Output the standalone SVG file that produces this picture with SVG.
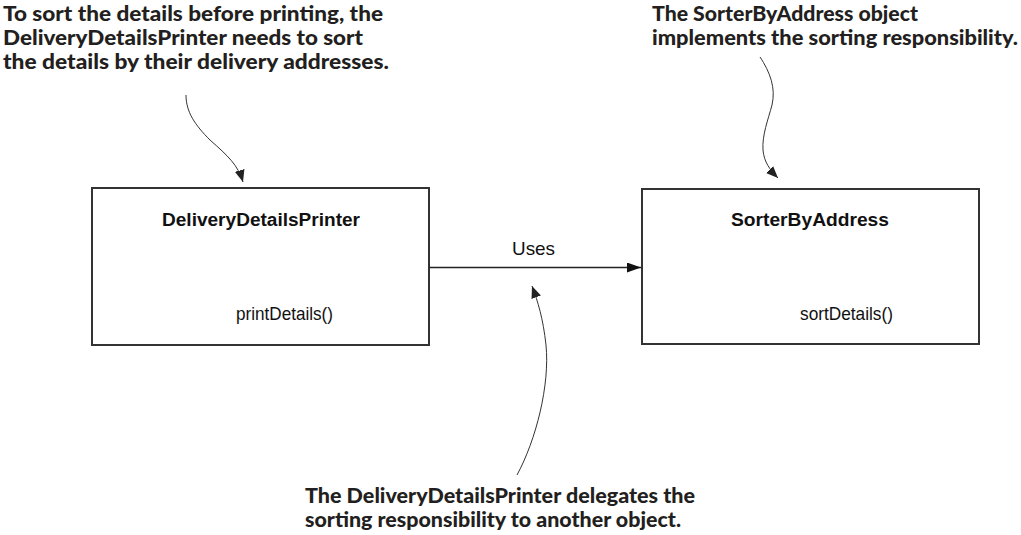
<svg xmlns="http://www.w3.org/2000/svg" width="1021" height="535" viewBox="0 0 1021 535">
<style>
.box{fill:#fff;stroke:#333;stroke-width:2}
.title{font-family:"Liberation Sans",Arial,sans-serif;font-weight:bold;font-size:18px;fill:#111}
.meth{font-family:"Liberation Sans",Arial,sans-serif;font-size:18.5px;fill:#111}
.note{font-family:Lato,"Open Sans",sans-serif;font-weight:900;font-size:21.5px;fill:#231f20}
.conn{fill:none;stroke:#222;stroke-width:1.5}
.call{fill:none;stroke:#333;stroke-width:1}
</style>
<defs>
<marker id="tri" markerWidth="14" markerHeight="10" refX="14" refY="5" orient="auto" markerUnits="userSpaceOnUse">
<path d="M0,0 L14,5 L0,10 Z" fill="#111"/>
</marker>
<marker id="ann" markerWidth="12" markerHeight="10" refX="12" refY="5" orient="auto" markerUnits="userSpaceOnUse">
<path d="M0,0 L12,5 L0,10 Z" fill="#222"/>
</marker>
</defs>
<g id="note-left">
<text class="note" x="3" y="21" textLength="380" lengthAdjust="spacingAndGlyphs">To sort the details before printing, the</text>
<text class="note" x="3" y="45" textLength="360" lengthAdjust="spacingAndGlyphs">DeliveryDetailsPrinter needs to sort</text>
<text class="note" x="3" y="69" textLength="386" lengthAdjust="spacingAndGlyphs">the details by their delivery addresses.</text>
</g>
<g id="note-right">
<text class="note" x="652" y="21" textLength="266" lengthAdjust="spacingAndGlyphs">The SorterByAddress object</text>
<text class="note" x="652" y="45" textLength="366" lengthAdjust="spacingAndGlyphs">implements the sorting responsibility.</text>
</g>
<g id="note-bottom">
<text class="note" x="305" y="503" textLength="390" lengthAdjust="spacingAndGlyphs">The DeliveryDetailsPrinter delegates the</text>
<text class="note" x="305" y="527" textLength="376" lengthAdjust="spacingAndGlyphs">sorting responsibility to another object.</text>
</g>
<g id="DeliveryDetailsPrinter">
<rect class="box" x="92" y="188" width="337" height="157"/>
<text class="title" x="162" y="226" textLength="198" lengthAdjust="spacingAndGlyphs">DeliveryDetailsPrinter</text>
<text class="meth" x="236" y="320" textLength="97" lengthAdjust="spacingAndGlyphs">printDetails()</text>
</g>
<g id="SorterByAddress">
<rect class="box" x="642" y="189" width="337" height="155"/>
<text class="title" x="731" y="226" textLength="158" lengthAdjust="spacingAndGlyphs">SorterByAddress</text>
<text class="meth" x="800" y="320" textLength="93" lengthAdjust="spacingAndGlyphs">sortDetails()</text>
</g>
<g id="connectors">
<line class="conn" x1="429" y1="267.5" x2="641" y2="267.5" marker-end="url(#tri)"/>
<text class="meth" x="512" y="255" textLength="43" lengthAdjust="spacingAndGlyphs">Uses</text>
<path class="call" d="M186,95 C186,112 195,125 210,140 C228,156 238,165 243,182" marker-end="url(#ann)"/>
<path class="call" d="M760,57 C770,72 776,88 772,105 C768,120 762,135 763,150 C764,162 770,170 778,178" marker-end="url(#ann)"/>
<path class="call" d="M517,475 C536,440 550,385 546,345 C543,318 538,302 532,286" marker-end="url(#ann)"/>
</g>
</svg>
